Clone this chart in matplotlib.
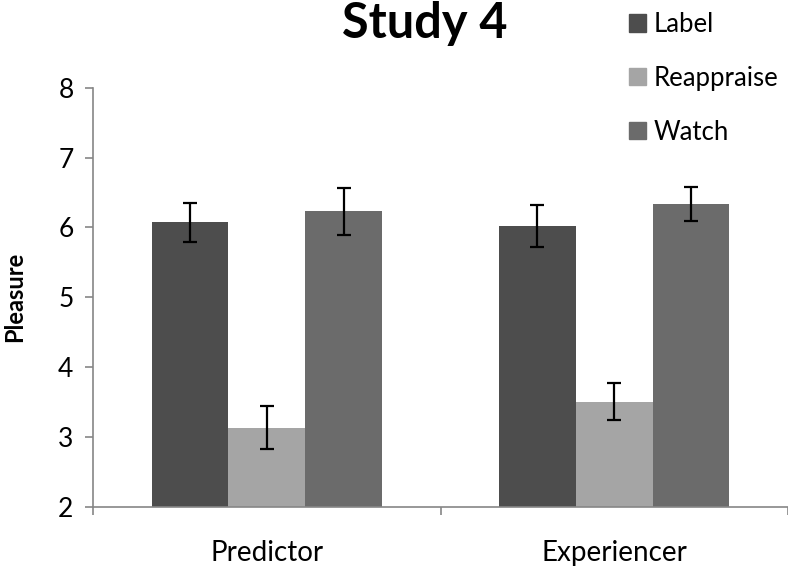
import numpy as np
import matplotlib.pyplot as plt
from matplotlib.patches import Patch

# Values
groups = ["Predictor", "Experiencer"]
conditions = ["Label", "Reappraise", "Watch"]
label_means = [6.07, 6.02]
reappraise_means = [3.13, 3.50]
watch_means = [6.23, 6.34]
label_err = [0.28, 0.30]
reappraise_err = [0.31, 0.265]
watch_err = [0.335, 0.245]

colors = ["#4d4d4d", "#a5a5a5", "#6b6b6b"]
font = ["Lato", "DejaVu Sans"]
plt.rcParams['font.family'] = font

fig = plt.figure(figsize=(7.88, 5.68), dpi=100)
ax = fig.add_axes([93 / 788, 1 - 506.7 / 568, 1 - 93 / 788, (506.7 - 87.7) / 568])

x = np.arange(len(groups))
w = 0.221
means = [label_means, reappraise_means, watch_means]
errs = [label_err, reappraise_err, watch_err]
for i in range(3):
    ax.bar(x + (i - 1) * w, means[i], w, color=colors[i], zorder=2)
    ax.errorbar(x + (i - 1) * w, means[i], yerr=errs[i], fmt="none",
                ecolor="black", elinewidth=1.6, capsize=5, capthick=1.6, zorder=3)

ax.set_xlim(-0.5, 1.5)
ax.set_ylim(2, 8)
ax.set_yticks(range(2, 9))
ax.set_xticks(x)
ax.set_xticklabels(groups, fontsize=20)
ax.set_xticks([-0.5, 0.5, 1.5], minor=True)
ax.tick_params(axis="x", which="major", length=0, pad=24)
ax.tick_params(axis="x", which="minor", length=6, color="#868686", width=1.2)
ax.tick_params(axis="y", labelsize=19, length=6, color="#868686", width=1.2, pad=8)
for s in ["top", "right"]:
    ax.spines[s].set_visible(False)
for s in ["left", "bottom"]:
    ax.spines[s].set_color("#868686")
    ax.spines[s].set_linewidth(1.2)

ax.set_ylabel("Pleasure", fontsize=17, fontweight="bold", labelpad=23)
fig.text(425 / 788, 1 - 24 / 568, "Study 4", fontsize=35, fontweight="bold",
         ha="center", va="center")

handles = [Patch(color=c) for c in colors]
fig.legend(handles, conditions, loc="upper left", bbox_to_anchor=(629 / 788, 1 - 12 / 568),
           frameon=False, fontsize=18.5, handlelength=0.65, handleheight=0.65,
           handletextpad=0.3, labelspacing=1.12, borderpad=0, borderaxespad=0)

plt.savefig("out.png", dpi=100)
